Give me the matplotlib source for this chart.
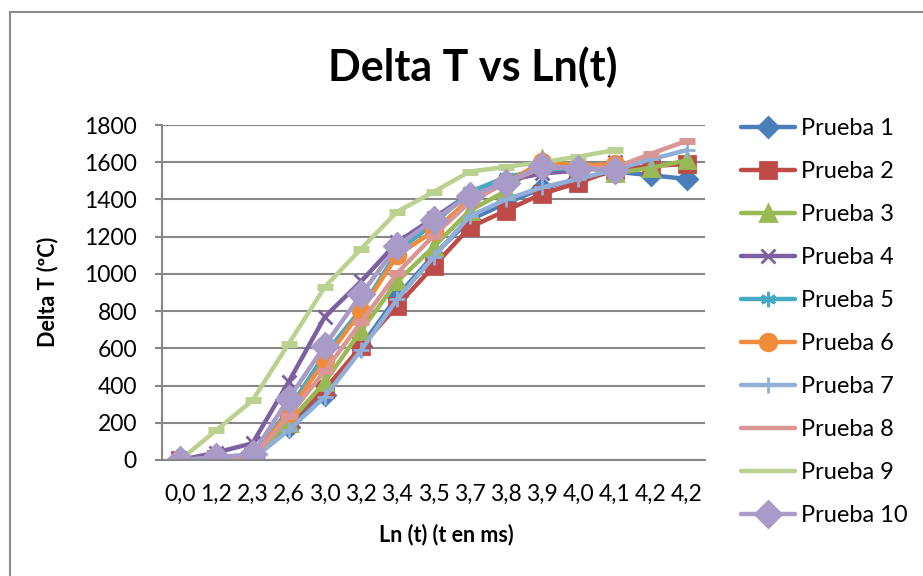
import matplotlib
matplotlib.use("Agg")
import matplotlib.pyplot as plt
from matplotlib.patches import Rectangle

plt.rcParams['font.family'] = ['Lato', 'DejaVu Sans']

categories = ["0,0", "1,2", "2,3", "2,6", "3,0", "3,2", "3,4", "3,5",
              "3,7", "3,8", "3,9", "4,0", "4,1", "4,2", "4,2"]

prueba_1 = [0, 5, 10, 180, 350, 610, 880, 1100, 1290, 1380, 1460, 1510, 1550, 1530, 1510]
prueba_2 = [0, 5, 15, 200, 380, 610, 830, 1040, 1250, 1340, 1430, 1490, 1560, 1580, 1590]
prueba_3 = [0, 8, 15, 200, 420, 695, 960, 1145, 1340, 1445, 1615, 1580, 1540, 1570, 1610]
prueba_4 = [0, 40, 90, 420, 770, 960, 1170, 1300, 1430, 1500, 1540, 1555, 1600]
prueba_5 = [0, 10, 15, 270, 570, 810, 1120, 1270, 1440, 1520, 1560, 1570, 1590]
prueba_6 = [0, 10, 15, 255, 535, 800, 1100, 1230, 1400, 1490, 1600, 1580, 1590]
prueba_7 = [0, 5, 5, 160, 340, 590, 865, 1090, 1310, 1400, 1465, 1510, 1560, 1615, 1665]
prueba_8 = [0, 5, 10, 235, 480, 740, 1005, 1205, 1385, 1490, 1570, 1570, 1570, 1645, 1715]
prueba_9 = [0, 160, 320, 625, 930, 1135, 1335, 1440, 1550, 1575, 1600, 1630, 1665]
prueba_10 = [0, 15, 30, 330, 615, 890, 1150, 1290, 1420, 1490, 1580, 1565, 1560]

series_names = ["Prueba 1", "Prueba 2", "Prueba 3", "Prueba 4", "Prueba 5",
                "Prueba 6", "Prueba 7", "Prueba 8", "Prueba 9", "Prueba 10"]
series_values = [prueba_1, prueba_2, prueba_3, prueba_4, prueba_5,
                 prueba_6, prueba_7, prueba_8, prueba_9, prueba_10]

colors = ["#4A7EBB", "#BE4B48", "#98B954", "#7D60A0", "#46AAC5",
          "#F08C3A", "#8FAFD9", "#D99694", "#BBD18F", "#A99BC8"]
markers = ["D", "s", "^", "x", (6, 2, 0), "o", "+", "_", "_", "D"]
msizes = [10, 11, 12, 10, 11, 12, 12, 12, 12, 13]

fig = plt.figure(figsize=(9.23, 5.76), dpi=100)
fig.patch.set_facecolor("white")

# chart border
fig.patches.append(Rectangle((10 / 923, -0.1), 1.2, 1 - 12 / 576 + 0.1,
                             transform=fig.transFigure, fill=False,
                             edgecolor="#8C8C8C", linewidth=1.5))

ax = fig.add_axes([162 / 923, 1 - 460 / 576, (705 - 162) / 923, (460 - 125) / 576])

x = list(range(len(categories)))
for name, vals, c, m, ms in zip(series_names, series_values, colors, markers, msizes):
    xs = x[:len(vals)]
    mew = 2.0
    if m in ("_",):
        mew = 5.0
    ax.plot(xs, vals, color=c, linewidth=3.2, marker=m, markersize=ms,
            markerfacecolor=c, markeredgecolor=c, markeredgewidth=mew,
            label=name, solid_capstyle="round", solid_joinstyle="round")

ax.set_xlim(-0.5, len(categories) - 0.5)
ax.set_ylim(0, 1800)
ax.set_yticks(range(0, 1801, 200))
ax.set_xticks(x)
ax.set_xticklabels(categories)
ax.tick_params(axis="x", length=0, labelsize=16.5, pad=17, colors="black")
ax.tick_params(axis="y", length=5, width=1.5, color="#878787", labelsize=16.5,
               pad=13, labelcolor="black")
ax.yaxis.grid(True, color="#878787", linewidth=1.5)
ax.set_axisbelow(True)
for s in ["top", "right"]:
    ax.spines[s].set_visible(False)
ax.spines["left"].set_color("#878787")
ax.spines["left"].set_linewidth(1.5)
ax.spines["bottom"].set_color("#878787")
ax.spines["bottom"].set_linewidth(1.5)

fig.text(473 / 923, 1 - 67 / 576, "Delta T vs Ln(t)", ha="center", va="center",
         fontsize=31, fontweight="bold")
fig.text(48 / 923, 1 - 292 / 576, "Delta T (ºC)", ha="center", va="center",
         rotation=90, fontsize=15.5, fontweight="bold")
fig.text(446 / 923, 1 - 535 / 576, "Ln (t) (t en ms)", ha="center", va="center",
         fontsize=15.5, fontweight="bold")

leg = fig.legend(loc="center left", bbox_to_anchor=(741 / 923, 1 - 322 / 576),
                 frameon=False, fontsize=17, handlelength=2.3, handletextpad=0.25,
                 labelspacing=0.93, borderpad=0, borderaxespad=0)
# Excel shows plain lines for the dash-marker series in the legend
for h in leg.legend_handles[7:9]:
    h.set_marker("None")

fig.savefig("out.png", dpi=100)
